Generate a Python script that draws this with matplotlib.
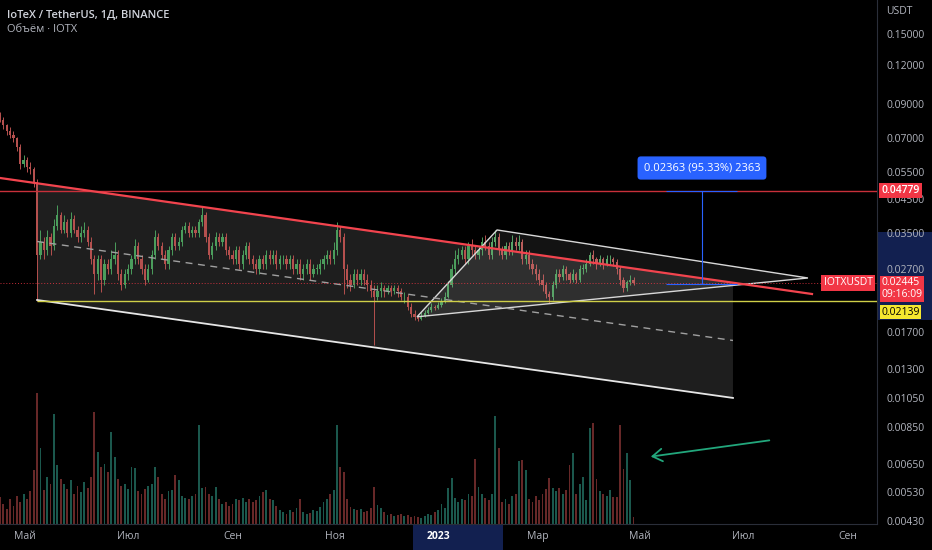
import matplotlib
matplotlib.use('Agg')
import matplotlib.pyplot as plt
import matplotlib.transforms as mtransforms
from matplotlib.patches import Rectangle, Polygon
from matplotlib.ticker import NullLocator
import numpy as np

plt.rcParams['font.family'] = ['Open Sans', 'DejaVu Sans']

# 2-day candles, day 0 = 2022-04-16
first_open = 0.083
closes = [
    0.080, 0.077, 0.074, 0.072, 0.070, 0.066, 0.058, 0.060, 0.057, 0.056,
    0.051, 0.030, 0.033, 0.031, 0.034, 0.032, 0.037, 0.040, 0.036, 0.038,
    0.035, 0.039, 0.036, 0.034, 0.035, 0.036, 0.033, 0.029, 0.026, 0.029,
    0.025, 0.028, 0.027, 0.029, 0.030, 0.026, 0.024, 0.026, 0.027, 0.029,
    0.032, 0.029, 0.027, 0.025, 0.027, 0.030, 0.034, 0.032, 0.030, 0.028,
    0.031, 0.034, 0.032, 0.033, 0.036, 0.037, 0.035, 0.036, 0.035, 0.038,
    0.040, 0.034, 0.030, 0.032, 0.034, 0.033, 0.034, 0.031, 0.030, 0.029,
    0.031, 0.028, 0.030, 0.032, 0.029, 0.028, 0.027, 0.029, 0.028, 0.030,
    0.029, 0.030, 0.028, 0.029, 0.029, 0.028, 0.029, 0.027, 0.028, 0.026,
    0.027, 0.028, 0.026, 0.027, 0.027, 0.028, 0.029, 0.030, 0.029, 0.031,
    0.036, 0.034, 0.027, 0.025, 0.024, 0.026, 0.025, 0.026, 0.025, 0.024,
    0.023, 0.022, 0.023, 0.0235, 0.023, 0.0235, 0.023, 0.0235, 0.023, 0.022,
    0.022, 0.0205, 0.0195, 0.019, 0.0188, 0.0192, 0.0196, 0.0200, 0.0205, 0.0203,
    0.0208, 0.0212, 0.022, 0.024, 0.027, 0.029, 0.030, 0.031, 0.029, 0.032,
    0.031, 0.030, 0.031, 0.033, 0.032, 0.030, 0.033, 0.034, 0.031, 0.030,
    0.032, 0.031, 0.033, 0.032, 0.033, 0.029, 0.030, 0.028, 0.027, 0.026,
    0.025, 0.024, 0.0225, 0.022, 0.024, 0.026, 0.0255, 0.027, 0.026, 0.025,
    0.026, 0.025, 0.027, 0.027, 0.028, 0.030, 0.029, 0.028, 0.029, 0.028,
    0.029, 0.029, 0.0285, 0.027, 0.025, 0.0235, 0.0245, 0.025, 0.02445,
]
highs = [
    0.085, 0.082, 0.078, 0.076, 0.074, 0.071, 0.067, 0.062, 0.061, 0.059,
    0.057, 0.052, 0.036, 0.034, 0.036, 0.035, 0.039, 0.043, 0.041, 0.040,
    0.039, 0.041, 0.040, 0.037, 0.037, 0.038, 0.037, 0.034, 0.030, 0.030,
    0.030, 0.029, 0.029, 0.031, 0.033, 0.031, 0.027, 0.027, 0.028, 0.030,
    0.0335, 0.033, 0.030, 0.028, 0.028, 0.031, 0.036, 0.035, 0.033, 0.031,
    0.032, 0.035, 0.035, 0.034, 0.037, 0.038, 0.038, 0.037, 0.037, 0.039,
    0.0425, 0.041, 0.035, 0.033, 0.0355, 0.035, 0.035, 0.035, 0.032, 0.031,
    0.032, 0.032, 0.031, 0.033, 0.033, 0.030, 0.029, 0.030, 0.030, 0.031,
    0.031, 0.031, 0.031, 0.030, 0.030, 0.030, 0.030, 0.030, 0.029, 0.029,
    0.028, 0.029, 0.029, 0.028, 0.028, 0.029, 0.030, 0.031, 0.031, 0.033,
    0.038, 0.037, 0.035, 0.028, 0.026, 0.027, 0.027, 0.027, 0.027, 0.026,
    0.025, 0.024, 0.024, 0.0245, 0.024, 0.024, 0.024, 0.024, 0.024, 0.0235,
    0.0228, 0.0225, 0.021, 0.020, 0.0195, 0.0197, 0.0200, 0.0205, 0.0210, 0.0208,
    0.0212, 0.0218, 0.0228, 0.0248, 0.028, 0.031, 0.0315, 0.032, 0.032, 0.033,
    0.0335, 0.032, 0.032, 0.034, 0.0345, 0.033, 0.034, 0.036, 0.035, 0.032,
    0.033, 0.033, 0.0345, 0.034, 0.0345, 0.0335, 0.031, 0.031, 0.029, 0.028,
    0.027, 0.026, 0.0245, 0.023, 0.0248, 0.027, 0.027, 0.0278, 0.0275, 0.0265,
    0.027, 0.0265, 0.0278, 0.028, 0.029, 0.0305, 0.031, 0.0295, 0.0298, 0.0295,
    0.030, 0.0298, 0.0295, 0.029, 0.0275, 0.0255, 0.025, 0.0258, 0.0254,
]
lows = [
    0.079, 0.075, 0.072, 0.070, 0.068, 0.064, 0.056, 0.057, 0.055, 0.054,
    0.049, 0.0214, 0.029, 0.029, 0.030, 0.030, 0.031, 0.036, 0.035, 0.035,
    0.034, 0.034, 0.035, 0.033, 0.033, 0.034, 0.032, 0.028, 0.0225, 0.025,
    0.0228, 0.024, 0.026, 0.026, 0.028, 0.025, 0.0232, 0.0235, 0.025, 0.026,
    0.028, 0.028, 0.026, 0.024, 0.0245, 0.026, 0.029, 0.031, 0.029, 0.027,
    0.027, 0.030, 0.031, 0.031, 0.032, 0.035, 0.034, 0.034, 0.034, 0.034,
    0.037, 0.033, 0.029, 0.029, 0.031, 0.032, 0.032, 0.030, 0.029, 0.028,
    0.028, 0.027, 0.027, 0.029, 0.028, 0.027, 0.026, 0.026, 0.027, 0.027,
    0.028, 0.028, 0.027, 0.027, 0.028, 0.027, 0.027, 0.026, 0.026, 0.025,
    0.025, 0.026, 0.025, 0.0255, 0.026, 0.026, 0.027, 0.028, 0.028, 0.028,
    0.030, 0.033, 0.0225, 0.0235, 0.023, 0.0235, 0.024, 0.024, 0.024, 0.023,
    0.022, 0.0155, 0.0215, 0.022, 0.022, 0.0225, 0.0222, 0.0225, 0.022, 0.0215,
    0.021, 0.0200, 0.019, 0.0186, 0.0185, 0.0186, 0.0190, 0.0194, 0.0198, 0.0200,
    0.0201, 0.0205, 0.0210, 0.0218, 0.0236, 0.026, 0.028, 0.029, 0.028, 0.028,
    0.030, 0.029, 0.029, 0.030, 0.031, 0.029, 0.029, 0.032, 0.030, 0.029,
    0.029, 0.030, 0.030, 0.031, 0.031, 0.028, 0.028, 0.027, 0.026, 0.025,
    0.024, 0.023, 0.0218, 0.0211, 0.0215, 0.0235, 0.0245, 0.025, 0.025, 0.0243,
    0.0245, 0.0243, 0.0245, 0.026, 0.0265, 0.0275, 0.028, 0.027, 0.0275, 0.027,
    0.0275, 0.028, 0.0275, 0.026, 0.024, 0.0228, 0.023, 0.024, 0.0240,
]
volumes = [
    27, 20, 15, 25, 18, 28, 22, 30, 25, 33,
    54, 131, 76, 34, 47, 40, 110, 59, 45, 40,
    35, 44, 30, 38, 32, 42, 36, 47, 112, 72,
    57, 60, 52, 92, 67, 45, 38, 40, 35, 57,
    56, 33, 30, 35, 38, 40, 57, 47, 30, 25,
    33, 34, 49, 44, 28, 26, 25, 28, 30, 99,
    36, 37, 30, 28, 37, 25, 20, 22, 18, 20,
    25, 24, 26, 22, 25, 22, 24, 28, 32, 34,
    25, 24, 18, 14, 12, 10, 14, 12, 16, 25,
    12, 10, 11, 14, 13, 17, 22, 25, 30, 34,
    99, 57, 52, 25, 17, 15, 14, 15, 12, 13,
    16, 37, 19, 16, 12, 9, 10, 8, 9, 10,
    8, 9, 7, 8, 7, 6, 8, 10, 9, 12,
    14, 20, 16, 36, 46, 26, 22, 25, 24, 30,
    28, 65, 37, 30, 26, 24, 30, 108, 76, 22,
    25, 20, 28, 30, 63, 64, 54, 25, 22, 28,
    24, 30, 35, 46, 36, 33, 36, 30, 34, 59,
    71, 30, 40, 47, 24, 96, 101, 45, 33, 30,
    28, 34, 27, 27, 99, 55, 71, 44, 7,
]

month_days = [15, 76, 138, 199, 260, 319, 380, 441, 503]
month_labels = ['Май', 'Июл', 'Сен', 'Ноя', '2023', 'Мар', 'Май', 'Июл', 'Сен']
price_ticks = [0.15, 0.12, 0.09, 0.07, 0.055, 0.045, 0.035, 0.027,
               0.017, 0.013, 0.0105, 0.0085, 0.0065, 0.0053, 0.0043]

# drawings (day, price)
trend_red = [(0, 0.05246), (481.9, 0.02250)]
chan_top = [(22, 0.05058), (435, 0.02438)]
chan_mid = [(22, 0.03301), (435, 0.01603)]
chan_bot = [(22, 0.02154), (435, 0.01054)]
triangle = [(247.5, 0.01905), (295, 0.03590), (479.5, 0.02529)]
resist = 0.04779
support = 0.02139
last_price = 0.02445
measure_day = 416.6
measure_low = 0.02416
arrow_from = (458.2, 0.007755)
arrow_to = (384.6, 0.006851)

W, H = 932, 550
fig = plt.figure(figsize=(W / 100, H / 100), dpi=100, facecolor='black')
rect = [0, 26 / H, 877 / W, 524 / H]
ax_v = fig.add_axes(rect)
ax = fig.add_axes(rect)
for a in (ax_v, ax):
    a.set_facecolor('none')
xmax = 877 / 1.685

opens = [first_open] + closes[:-1]
days = np.arange(len(closes)) * 2
o = np.array(opens)
c = np.array(closes)
hi = np.maximum(np.array(highs), np.maximum(o, c))
lo = np.minimum(np.array(lows), np.minimum(o, c))
up = c >= o
col = np.where(up, '#4b9d5c', '#b5504e')
vcol = np.where(up, '#1b584d', '#672828')

# volume
ax_v.bar(days, volumes, width=1.1, color=vcol, linewidth=0)
ax_v.set_xlim(0, xmax)
ax_v.set_ylim(0, 524)
ax_v.axis('off')

# channel and triangle fills
cx = [chan_top[0], chan_top[1], chan_bot[1], chan_bot[0]]
ax.add_patch(Polygon(cx, closed=True, facecolor=(1, 1, 1, 0.12), edgecolor='none', zorder=1))
ax.add_patch(Polygon(triangle, closed=True, facecolor=(1, 1, 1, 0.08),
                     edgecolor='#d8d8d8', linewidth=1.0, zorder=4))
ax.plot(*zip(*chan_bot), color='#e6e6e6', lw=1.3, zorder=4)
ax.plot(*zip(*chan_mid), color='#a0a0a0', lw=1.0, ls=(0, (5, 4)), zorder=4)

# candles
ax.vlines(days, lo, hi, colors=col, lw=0.7, zorder=3)
ax.bar(days, np.maximum(np.abs(c - o), c * 0.004), bottom=np.minimum(o, c),
       width=1.3, color=col, linewidth=0, zorder=3)

# levels
ax.axhline(resist, color='#c8303a', lw=1.0, zorder=5)
ax.hlines(support, 22, xmax, color='#cfcf48', lw=1.0, zorder=5)
ax.axhline(last_price, color='#f23645', lw=0.7, ls=(0, (1, 2)), alpha=0.8, zorder=5)
ax.plot(*zip(*trend_red), color='#f2444e', lw=1.6, zorder=6)

# measure tool
ax.vlines(measure_day, measure_low, resist, color='#2962ff', lw=0.8, zorder=6)
ax.hlines([resist, measure_low], 395, 437.4, color='#2962ff', lw=0.8, zorder=6)
ax.text(measure_day, 0.05642, '0.02363 (95.33%) 2363', color='white', fontsize=8,
        ha='center', va='center', zorder=7,
        bbox=dict(boxstyle='round,pad=0.55,rounding_size=0.3', fc='#2962ff', ec='none'))

# green arrow
ax.annotate('', xy=arrow_to, xytext=arrow_from,
            arrowprops=dict(arrowstyle='->,head_length=0.7,head_width=0.45',
                            color='#22a77c', lw=1.3), zorder=7)

ax.set_yscale('log')
ax.set_xlim(0, xmax)
ax.set_ylim(0.004201, 0.19223)
ax.yaxis.set_minor_locator(NullLocator())
ax.yaxis.tick_right()
ax.set_yticks(price_ticks)
ax.set_yticklabels([f'{p:.5f}' for p in price_ticks])
ax.tick_params(axis='y', length=0, pad=7, labelcolor='#b2b5be', labelsize=7.5)
ax.set_xticks(month_days)
ax.set_xticklabels(month_labels)
ax.tick_params(axis='x', length=0, pad=5, labelcolor='#b2b5be', labelsize=7.5)
lab = ax.get_xticklabels()[4]
lab.set_color('white')
lab.set_fontweight('bold')
for s in ('top', 'left'):
    ax.spines[s].set_visible(False)
for s in ('right', 'bottom'):
    ax.spines[s].set_color('#2a2e39')
    ax.spines[s].set_linewidth(0.8)

# selection highlight on axes
fig.add_artist(Rectangle((413 / W, 0), 90 / W, 25 / H, transform=fig.transFigure,
                         facecolor='#122050', edgecolor='none', zorder=-1))
fig.add_artist(Rectangle((878 / W, 1 - 320 / H), 54 / W, 88 / H, transform=fig.transFigure,
                         facecolor='#122050', edgecolor='none', zorder=-1))

# price labels on scale
blend = mtransforms.blended_transform_factory(ax.transAxes, ax.transData)
ax.annotate('0.04779', xy=(1, resist), xycoords=blend, xytext=(3, 0),
            textcoords='offset points', va='center', ha='left', color='white',
            fontsize=7.5, fontweight='semibold', annotation_clip=False, zorder=8,
            bbox=dict(boxstyle='square,pad=0.2', fc='#f23645', ec='none'))
ax.annotate('0.02445\n09:16:09', xy=(1, last_price), xycoords=blend, xytext=(3, -4.5),
            textcoords='offset points', va='center', ha='left', color='white',
            fontsize=7.5, linespacing=1.1, annotation_clip=False, zorder=8,
            bbox=dict(boxstyle='square,pad=0.15', fc='#f23645', ec='none'))
ax.annotate('0.02139', xy=(1, support), xycoords=blend, xytext=(3, -8),
            textcoords='offset points', va='center', ha='left', color='black',
            fontsize=7.5, annotation_clip=False, zorder=9,
            bbox=dict(boxstyle='square,pad=0.15', fc='#f5e72f', ec='none'))
ax.annotate('IOTXUSDT', xy=(1, last_price), xycoords=blend, xytext=(-3, 0),
            textcoords='offset points', va='center', ha='right', color='white',
            fontsize=7.5, annotation_clip=False, zorder=8,
            bbox=dict(boxstyle='square,pad=0.25', fc='#f23645', ec='none'))

fig.text(7 / W, 1 - 15 / H, 'IoTeX / TetherUS, 1Д, BINANCE', color='#d1d4dc',
         fontsize=8, fontweight='semibold', va='center', ha='left')
fig.text(7 / W, 1 - 30 / H, 'Объём · IOTX', color='#b2b5be',
         fontsize=8, va='center', ha='left')
fig.text(886 / W, 1 - 12 / H, 'USDT', color='#b2b5be', fontsize=7.5,
         va='center', ha='left')

fig.savefig('out.png', dpi=100, facecolor='black')
